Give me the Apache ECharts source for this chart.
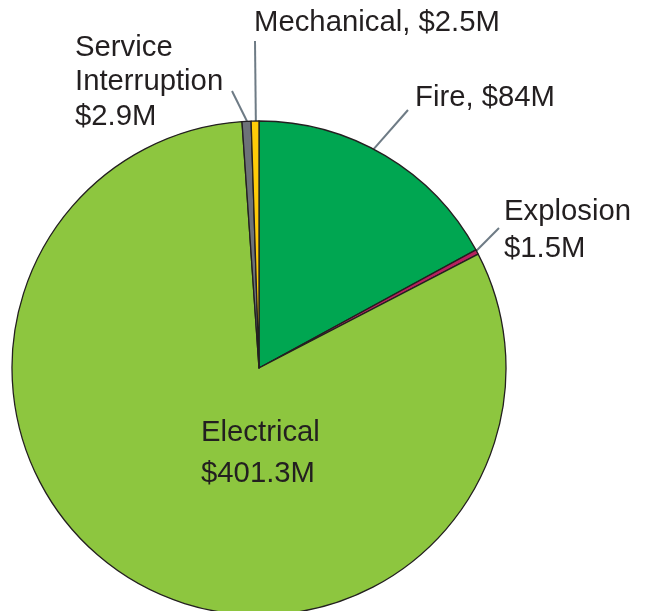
<!DOCTYPE html>
<html>
<head>
<meta charset="utf-8">
<script src="https://cdn.jsdelivr.net/npm/echarts@6/dist/echarts.min.js"></script>
<style>
  html, body { margin: 0; padding: 0; background: #ffffff; }
  #chart { width: 646px; height: 611px; }
</style>
</head>
<body>
<div id="chart"></div>
<script>
// Loss by cause, millions of dollars (clockwise from 12 o'clock)
const categories = ['Fire', 'Explosion', 'Electrical', 'Service Interruption', 'Mechanical'];
const lossValues = [84, 1.5, 401.3, 2.9, 2.5];
const labelTexts = ['Fire, $84M', 'Explosion\n$1.5M', 'Electrical\n$401.3M', 'Service\nInterruption\n$2.9M', 'Mechanical, $2.5M'];
const sliceColors = ['#00a651', '#b8215f', '#8dc63f', '#6d7278', '#ffcb08'];

// Label placement: anchor of the text block (left aligned, vertically centred)
const labelAnchors = [
  { x: 415, y: 98, lineHeight: 34 },
  { x: 504, y: 230, lineHeight: 37 },
  { x: 201, y: 453, lineHeight: 41 },
  { x: 75, y: 82, lineHeight: 34.5 },
  { x: 254, y: 23, lineHeight: 34 }
];
// Leader line end points (null = no leader line)
const leaderEnds = [[408, 110], [499, 228], null, [232, 91], [255, 41]];
// Where along each slice's arc the leader starts (fraction of the slice angle)
const leaderStartFrac = [0.45, 0.2, 0.5, 0.55, 0.6];

const CX = 259, CY = 368, R = 247;
const total = lossValues.reduce((a, b) => a + b, 0);

function arcPoint(idx, frac) {
  let before = 0;
  for (let i = 0; i < idx; i++) before += lossValues[i];
  const ang = (before + lossValues[idx] * frac) / total * 2 * Math.PI;
  return [CX + R * Math.sin(ang), CY - R * Math.cos(ang)];
}

const chart = echarts.init(document.getElementById('chart'), null, { renderer: 'canvas' });

chart.setOption({
  animation: false,
  backgroundColor: '#ffffff',
  series: [{
    type: 'pie',
    center: [CX, CY],
    radius: [0, R],
    startAngle: 90,
    clockwise: true,
    avoidLabelOverlap: false,
    itemStyle: { borderColor: '#231f20', borderWidth: 1.3 },
    label: {
      show: true,
      position: 'outside',
      color: '#231f20',
      fontFamily: '"Liberation Sans", Arial, sans-serif',
      fontSize: 29.3,
      formatter: p => labelTexts[p.dataIndex]
    },
    labelLine: {
      show: true,
      lineStyle: { color: '#6e7b85', width: 2 }
    },
    labelLayout: function (params) {
      const i = params.dataIndex;
      const a = labelAnchors[i];
      const out = { x: a.x, y: a.y, align: 'left', verticalAlign: 'middle' };
      const end = leaderEnds[i];
      if (end) {
        const start = arcPoint(i, leaderStartFrac[i]);
        out.labelLinePoints = [start, end, end];
      } else {
        const start = arcPoint(i, 0.5);
        out.labelLinePoints = [start, start, start];
      }
      return out;
    },
    data: categories.map((name, i) => ({
      name: name,
      value: lossValues[i],
      itemStyle: { color: sliceColors[i] },
      label: { lineHeight: labelAnchors[i].lineHeight },
      labelLine: { show: leaderEnds[i] !== null }
    }))
  }]
});
</script>
</body>
</html>
